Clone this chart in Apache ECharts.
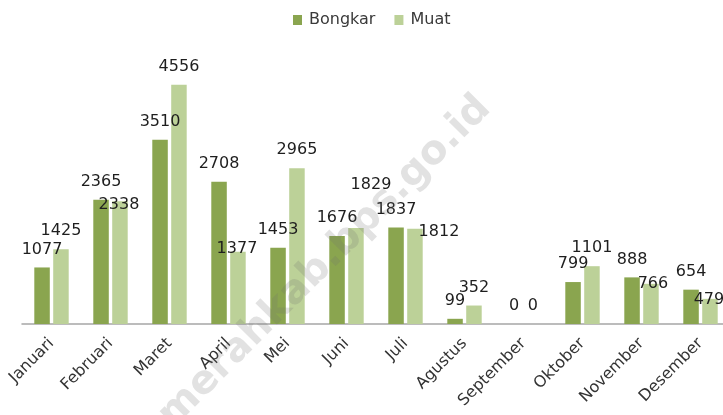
<!DOCTYPE html>
<html>
<head>
<meta charset="utf-8">
<script src="https://cdn.jsdelivr.net/npm/echarts@6/dist/echarts.min.js"></script>
<style>
    html, body { margin: 0; padding: 0; background: #fff; }
    #chart { width: 723px; height: 415px; }
</style>
</head>
<body>
<div id="chart"></div>
<script>
// Bongkar / Muat per bulan
var months = ['Januari', 'Februari', 'Maret', 'April', 'Mei', 'Juni', 'Juli', 'Agustus', 'September', 'Oktober', 'November', 'Desember'];
var bongkar = [1077, 2365, 3510, 2708, 1453, 1676, 1837, 99, 0, 799, 888, 654];
var muat = [1425, 2338, 4556, 1377, 2965, 1829, 1812, 352, 0, 1101, 766, 479];

// some Muat labels were dragged by hand in the original, move them the same way
var muatLabelNudge = { 1: [-1, 22], 3: [-1, 15], 5: [15, -25], 6: [24, 21], 10: [2, 18], 11: [-1, 19] };

var muatData = muat.map(function (v, i) {
    var item = { value: v };
    if (muatLabelNudge[i]) {
        item.label = { offset: muatLabelNudge[i] };
    }
    return item;
});

var labelStyle = {
    show: true,
    position: 'top',
    distance: 10,
    fontFamily: 'DejaVu Sans',
    fontSize: 16,
    color: '#1e1e1e'
};

var option = {
    animation: false,
    backgroundColor: '#fff',
    legend: {
        data: ['Bongkar', 'Muat'],
        left: 293,
        top: 12,
        padding: 0,
        icon: 'rect',
        itemWidth: 9,
        itemHeight: 10,
        itemGap: 19,
        textStyle: {
            fontFamily: 'DejaVu Sans',
            fontSize: 16,
            color: '#3a3a3a',
            padding: [0, 0, 0, 2]
        }
    },
    grid: {
        left: 22,
        top: 61.5,
        width: 708,
        height: 262.5,
        outerBoundsMode: 'none'
    },
    xAxis: {
        type: 'category',
        data: months,
        axisTick: { show: false },
        axisLine: {
            lineStyle: { color: '#a6a6a6', width: 1.5 }
        },
        axisLabel: {
            interval: 0,
            rotate: 45,
            margin: 17,
            fontFamily: 'DejaVu Sans',
            fontSize: 16,
            color: '#333'
        }
    },
    yAxis: {
        type: 'value',
        min: 0,
        max: 5000,
        show: false
    },
    series: [
        {
            name: 'Bongkar',
            type: 'bar',
            data: bongkar,
            barWidth: 15.5,
            barGap: '22%',
            itemStyle: { color: '#8aa54f' },
            label: labelStyle
        },
        {
            name: 'Muat',
            type: 'bar',
            data: muatData,
            barWidth: 15.5,
            itemStyle: { color: '#bcd198' },
            label: labelStyle
        }
    ],
    graphic: [
        {
            type: 'text',
            x: 325,
            y: 262,
            rotation: 45 * Math.PI / 180,
            z: 100,
            silent: true,
            style: {
                text: 'merahkab.bps.go.id',
                font: 'bold 40px "DejaVu Sans"',
                fill: 'rgba(110,110,110,0.2)',
                align: 'center',
                verticalAlign: 'middle'
            }
        }
    ]
};

var chart = echarts.init(document.getElementById('chart'));
chart.setOption(option);
</script>
</body>
</html>
